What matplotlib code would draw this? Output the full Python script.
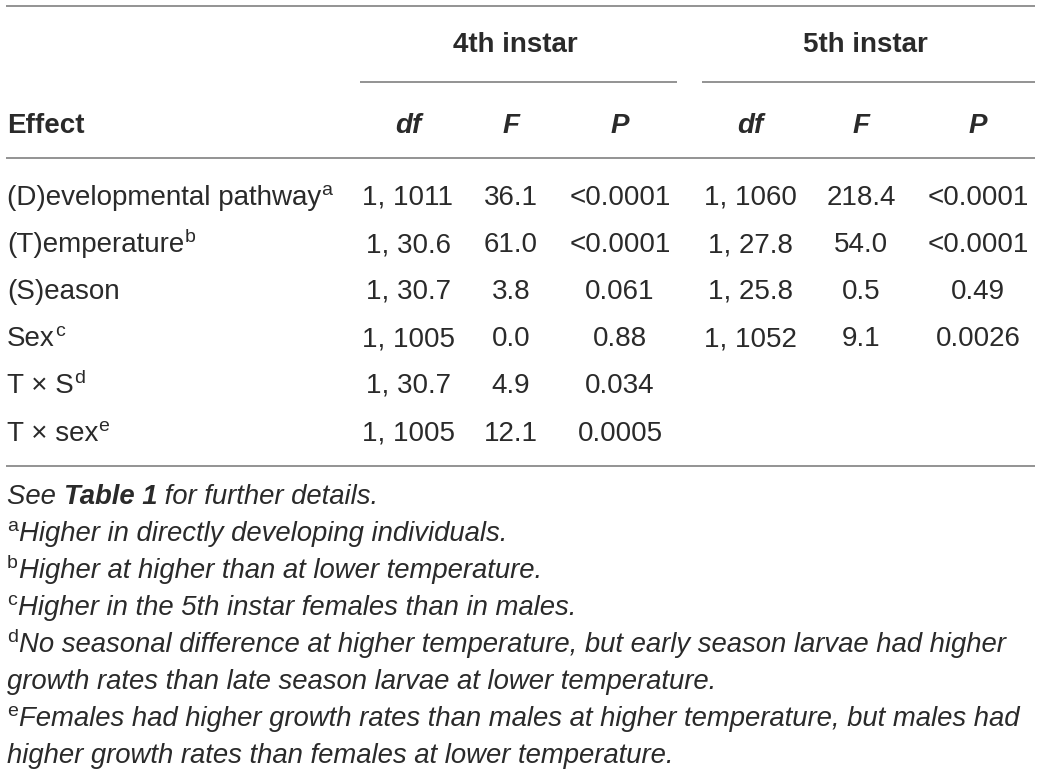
## Recreates a two-instar ANOVA table as a matplotlib figure

## Import libraries
import matplotlib
matplotlib.use("Agg")
import matplotlib.pyplot as plt

# Table content
groups = ["4th instar", "5th instar"]
stat_headers = ["df", "F", "P"]
effects = ["(D)evelopmental pathway", "(T)emperature", "(S)eason", "Sex",
           "T \u00d7 S", "T \u00d7 sex"]
effect_marks = ["a", "b", "", "c", "d", "e"]

df_4th = ["1, 1011", "1, 30.6", "1, 30.7", "1, 1005", "1, 30.7", "1, 1005"]
f_4th = ["36.1", "61.0", "3.8", "0.0", "4.9", "12.1"]
p_4th = ["<0.0001", "<0.0001", "0.061", "0.88", "0.034", "0.0005"]
df_5th = ["1, 1060", "1, 27.8", "1, 25.8", "1, 1052", "", ""]
f_5th = ["218.4", "54.0", "0.5", "9.1", "", ""]
p_5th = ["<0.0001", "<0.0001", "0.49", "0.0026", "", ""]

footnotes = [
    ("a", ["Higher in directly developing individuals."]),
    ("b", ["Higher at higher than at lower temperature."]),
    ("c", ["Higher in the 5th instar females than in males."]),
    ("d", ["No seasonal difference at higher temperature, but early season larvae had higher",
           "growth rates than late season larvae at lower temperature."]),
    ("e", ["Females had higher growth rates than males at higher temperature, but males had",
           "higher growth rates than females at lower temperature."]),
]

TEXT = "#2a2a2a"
RULE = "#8a8a8a"
FONT = "Liberation Sans"
W, H = 1041, 776

fig = plt.figure(figsize=(W / 100, H / 100), dpi=100)
ax = fig.add_axes([0, 0, 1, 1])
ax.set_xlim(0, W)
ax.set_ylim(H, 0)
ax.axis("off")
renderer = fig.canvas.get_renderer()


def put(x, y, s, size, **kw):
    """Draw one text run at baseline y and return the x where it ends."""
    t = ax.text(x, y, s, fontsize=size, family=FONT, color=TEXT,
                va="baseline", ha=kw.pop("ha", "left"), **kw)
    bb = t.get_window_extent(renderer).transformed(ax.transData.inverted())
    return bb.x1


def rule(x0, x1, y):
    ax.plot([x0, x1], [y, y], color=RULE, lw=1.3, solid_capstyle="butt")


# Horizontal rules
rule(6, 1035, 6)
rule(360, 677, 82)
rule(702, 1035, 82)
rule(6, 1035, 158)
rule(6, 1035, 466)

body = 20
cols_4th = [408, 511, 620]
cols_5th = [750, 861, 978]

# Group headers
for name, cols in zip(groups, [cols_4th, cols_5th]):
    put((cols[0] + cols[-1]) / 2 + 1, 52, name, body, ha="center", fontweight="bold")

# Column headers
put(7, 133, "Effect", body, fontweight="bold")
for cols in [cols_4th, cols_5th]:
    for cx, h in zip(cols, stat_headers):
        put(cx, 133, h, body, ha="center", fontweight="bold", fontstyle="italic")

# Body rows
row_y = [195, 242, 289, 336, 383, 431]
for i, y in enumerate(row_y):
    base = y + 10
    end = put(7, base, effects[i], body)
    if effect_marks[i]:
        put(end, base - 10, effect_marks[i], 14)
    values = [df_4th[i], f_4th[i], p_4th[i], df_5th[i], f_5th[i], p_5th[i]]
    for cx, v in zip(cols_4th + cols_5th, values):
        if v:
            put(cx, base, v, body, ha="center")

# Footnotes
note = 19.8
line_y = 495
x = put(7, line_y + 9, "See ", note, fontstyle="italic")
x = put(x, line_y + 9, "Table 1", note, fontstyle="italic", fontweight="bold")
put(x, line_y + 9, " for further details.", note, fontstyle="italic")

line_y += 37
for mark, lines in footnotes:
    end = put(7, line_y + 9 - 10, mark, 14)
    put(end + 1, line_y + 9, lines[0], note, fontstyle="italic")
    line_y += 37
    for extra in lines[1:]:
        put(7, line_y + 9, extra, note, fontstyle="italic")
        line_y += 37

fig.savefig("out.png", dpi=100)
